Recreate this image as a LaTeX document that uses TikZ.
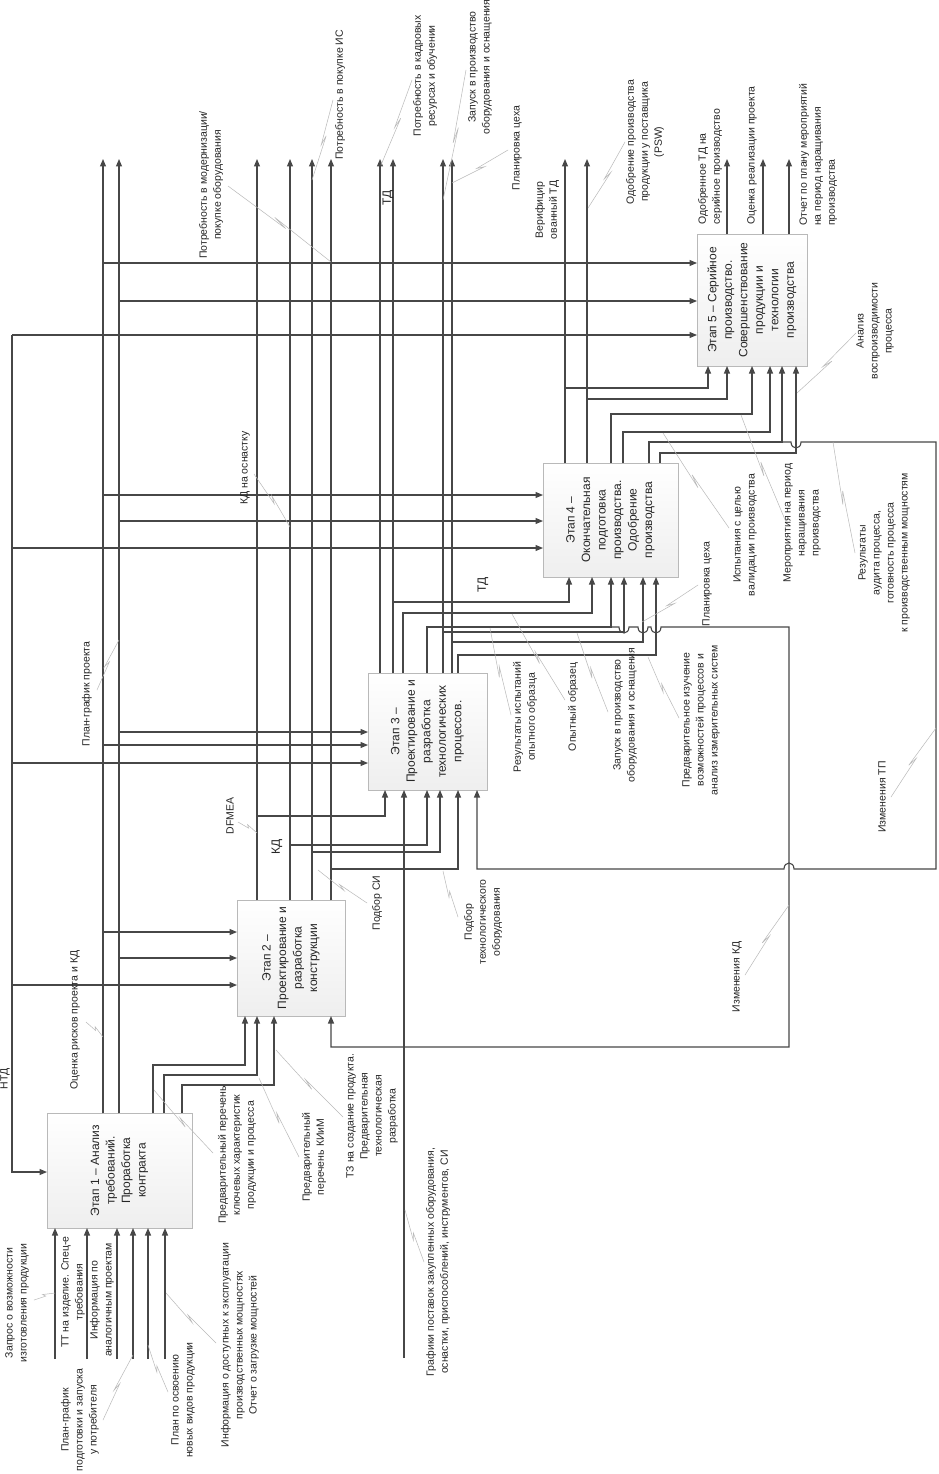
\documentclass[tikz,border=0pt]{standalone}
\usepackage{fontspec}
\setmainfont{Liberation Sans}
\usetikzlibrary{arrows.meta,calc}
\newcommand{\lead}[3]{%
  \coordinate (#1s) at (#2); \coordinate (#1e) at (#3);
  \draw[leader] (#1s) -- ($(#1s)!0.56!(#1e)$) -- ($(#1s)!0.44!(#1e)!2.5pt!90:(#1e)$) -- (#1e);}
\begin{document}
\begin{tikzpicture}[x=1pt,y=-1pt,
  ln/.style={draw=black!72,line width=1.1pt},
  arr/.style={ln,-{Triangle[length=7.5pt,width=6pt]}},
  box/.style={draw=gray!55,line width=0.8pt,top color=white,bottom color=gray!13,outer sep=0pt,inner sep=0pt},
  bt/.style={rotate=90,align=center,font=\fontsize{12}{15.5}\selectfont,text=black!85},
  lab/.style={rotate=90,align=center,font=\fontsize{10.5}{14}\selectfont,text=black!85,inner sep=0pt},
  big/.style={rotate=90,font=\fontsize{12}{14}\selectfont,text=black!85,inner sep=0pt},
  leader/.style={draw=gray!55,line width=0.5pt}]
\path[use as bounding box,fill=white] (0,0) rectangle (938,1474);

% boxes
\node[box,minimum width=145pt,minimum height=115pt] (b1) at (119.5,1170.5) {};
\node[box,minimum width=108pt,minimum height=116pt] (b2) at (291,958) {};
\node[box,minimum width=119pt,minimum height=117pt] (b3) at (427.5,731.5) {};
\node[box,minimum width=135pt,minimum height=114pt] (b4) at (610.5,520) {};
\node[box,minimum width=110pt,minimum height=132pt] (b5) at (752,300) {};
\node[bt] (t1) at (b1) {Этап 1 – Анализ\\требований.\\Проработка\\контракта};
\node[bt] (t2) at (b2) {Этап 2 –\\Проектирование и\\разработка\\конструкции};
\node[bt] (t3) at (b3) {Этап 3 –\\Проектирование и\\разработка\\технологических\\процессов.};
\node[bt] (t4) at (b4) {Этап 4 –\\Окончательная\\подготовка\\производства.\\Одобрение\\производства};
\node[bt] (t5) at (b5) {Этап 5 – Серийное\\производство.\\Совершенствование\\продукции и\\технологии\\производства};

% top tips
\foreach \x in {103,119,257,290,312,331,380,393,443,452,565,587,727,763,789}
  \coordinate (tp\x) at (\x,159);

% НТД control
\coordinate (ntd) at (12,335);
\draw[arr] (ntd) -- (b5.west |- ntd);
\draw[arr] (ntd) |- (b4.west |- 0,548);
\draw[arr] (ntd) |- (b3.west |- 0,763);
\draw[arr] (ntd) |- (b2.west |- 0,985);
\draw[arr] (ntd) |- (b1.west |- 0,1172);

% box 1 outputs
\draw[arr] (b1.north -| tp103) -- (tp103);
\foreach \ya/\bx in {263/b5,495/b4,745/b3,932/b2}
  \draw[arr] (b1.north -| tp103) |- (\bx.west |- 0,\ya);
\draw[arr] (b1.north -| tp119) -- (tp119);
\foreach \ya/\bx in {301/b5,521/b4,732/b3,958/b2}
  \draw[arr] (b1.north -| tp119) |- (\bx.west |- 0,\ya);
\foreach \xa/\ya/\xb in {153/1065/245,164/1075/257,182/1085/274}
  \draw[arr] (b1.north -| \xa,0) |- (\xb,\ya) -- (b2.south -| \xb,0);

% box 1 inputs
\foreach \x in {55,87,117,133,148,165} {
  \coordinate (in\x) at (\x,1359);
  \draw[arr] (in\x) -- (b1.south -| in\x);}

% box 2 outputs
\foreach \x in {257,290,312,331} \draw[arr] (b2.north -| tp\x) -- (tp\x);
\foreach \xa/\ya/\xb in {257/816/385,290/845/427,312/852/440,331/869/458}
  \draw[arr] (b2.north -| \xa,0) |- (\xb,\ya) -- (b3.south -| \xb,0);

% box 3 input from outside
\coordinate (in404) at (404,1358);
\draw[arr] (in404) -- (b3.south -| in404);

% box 3 outputs
\foreach \x in {380,393,443,452} \draw[arr] (b3.north -| tp\x) -- (tp\x);
\foreach \xa/\ya/\xb in {393/602/569,403/613/592,427/627/611,443/632/624,452/642/643,458/655/656}
  \draw[arr] (b3.north -| \xa,0) |- (\xb,\ya) -- (b4.south -| \xb,0);

% feedback: Изменения КД
\draw[arr] (b3.north -| 427,0) |- (619,627)
  .. controls (619,635) and (629,635) .. (629,627) -- (638,627)
  .. controls (638,635) and (648,635) .. (648,627) -- (651,627)
  .. controls (651,635) and (661,635) .. (661,627) -- (789,627) -- (789,1047)
  -| (b2.south -| 331,0);

% box 4 outputs
\foreach \x in {565,587} \draw[arr] (b4.north -| tp\x) -- (tp\x);
\foreach \xa/\ya/\xb in {565/388/708,587/399/727,611/414/752,623/432/770,649/442/782,660/453/796}
  \draw[arr] (b4.north -| \xa,0) |- (\xb,\ya) -- (b5.south -| \xb,0);

% feedback: Изменения ТП
\draw[arr] (b4.north -| 649,0) |- (791,442)
  .. controls (791,450) and (801,450) .. (801,442) -- (936,442) -- (936,869) -- (794,869)
  .. controls (794,861) and (784,861) .. (784,869) -| (b3.south -| 477,0);

% box 5 outputs
\foreach \x in {727,763,789} \draw[arr] (b5.north -| tp\x) -- (tp\x);

% labels
\node[lab] (Lntd) at (5,1079) {НТД};
\node[lab] (L1) at (75,1020) {Оценка рисков проекта и КД};
\lead{q1}{86,1022}{103,1037}
\node[lab] (L2) at (87,694) {План-график проекта};
\lead{q2}{97,690}{119,640}
\node[lab] (L3) at (230,816) {DFMEA};
\lead{q3}{238,822}{257,833}
\node[big] (L4) at (277,847) {КД};
\node[lab] (L5) at (245,468) {КД на оснастку};
\lead{q5}{254,474}{290,527}
\node[lab] (L6) at (211,185) {Потребность в модернизации/\\покупке оборудования};
\lead{q6}{228,186}{331,262}
\node[lab] (L7) at (340,95) {Потребность в покупке ИС};
\lead{q7}{333,100}{312,180}
\node[big] (L8) at (388,198) {ТД};
\node[lab] (L9) at (425,76) {Потребность в кадровых\\ресурсах и обучении};
\lead{q9}{412,80}{381,165}
\node[lab] (L10) at (480,67) {Запуск в производство\\оборудования и оснащения};
\lead{q10}{466,70}{443,200}
\node[lab] (L11) at (517,148) {Планировка цеха};
\lead{q11}{508,150}{452,183}
\node[lab] (L12) at (547,210) {Верифицир\\ованный ТД};
\node[lab] (L13) at (645,142) {Одобрение производства\\продукции у поставщика\\(PSW)};
\lead{q13}{625,142}{588,208}
\node[lab,anchor=west,align=left] (L14) at (710,225) {Одобренное ТД на\\серийное производство};
\node[lab,anchor=west,align=left] (L15) at (752,225) {Оценка реализации проекта};
\node[lab,anchor=west,align=left] (L16) at (818,226) {Отчет по плану мероприятий\\на период наращивания\\производства};
\node[lab] (L17) at (875,331) {Анализ\\воспроизводимости\\процесса};
\lead{q17}{856,333}{797,393}
\node[lab] (L18) at (745,535) {Испытания с целью\\валидации производства};
\lead{q18}{729,528}{663,433}
\node[lab] (L19) at (802,523) {Мероприятия на период\\наращивания\\производства};
\lead{q19}{786,522}{741,415}
\node[lab] (L20) at (884,553) {Результаты\\аудита процесса,\\готовность процесса\\к производственным мощностям};
\lead{q20}{855,553}{833,442}
\node[lab] (L21) at (882,797) {Изменения ТП};
\lead{q21}{891,797}{936,728}
\node[lab] (L22) at (737,977) {Изменения КД};
\lead{q22}{745,975}{789,905}
\node[big] (L23) at (483,585) {ТД};
\node[lab] (L24) at (525,717) {Результаты испытаний\\опытного образца};
\lead{q24}{511,715}{490,628}
\node[lab] (L25) at (573,707) {Опытный образец};
\lead{q25}{565,700}{512,614}
\node[lab] (L26) at (625,715) {Запуск в производство\\оборудования и оснащения};
\lead{q26}{608,712}{577,633}
\node[lab] (L27) at (701,720) {Предварительное изучение\\возможностей процессов и\\анализ измерительных систем};
\lead{q27}{679,718}{648,657}
\node[lab] (L28) at (707,584) {Планировка цеха};
\lead{q28}{698,585}{642,622}
\node[lab] (L29) at (377,903) {Подбор СИ};
\lead{q29}{367,903}{318,870}
\node[lab] (L30) at (483,922) {Подбор\\технологического\\оборудования};
\lead{q30}{458,917}{443,871}
\node[lab] (L31) at (237,1155) {Предварительный перечень\\ключевых характеристик\\продукции и процесса};
\lead{q31}{213,1153}{154,1090}
\node[lab] (L32) at (314,1157) {Предварительный\\перечень КИиМ};
\lead{q32}{299,1157}{259,1078}
\node[lab] (L33) at (372,1116) {ТЗ на создание продукта.\\Предварительная\\технологическая\\разработка};
\lead{q33}{343,1117}{276,1050}
\node[lab] (L34) at (438,1262) {Графики поставок закупленных оборудования,\\оснастки, приспособлений, инструментов, СИ};
\lead{q34}{424,1262}{405,1210}
\node[lab] (L35) at (17,1303) {Запрос о возможности\\изготовления продукции};
\lead{q35}{34,1300}{55,1293}
\node[lab] (L36) at (73,1292) {ТТ на изделие. Спец-е\\требования};
\node[lab] (L37) at (102,1300) {Информация по\\аналогичным проектам};
\node[lab] (L38) at (80,1420) {План-график\\подготовки и запуска\\у потребителя};
\lead{q38}{103,1420}{133,1355}
\node[lab] (L39) at (183,1400) {План по освоению\\новых видов продукции};
\lead{q39}{168,1392}{148,1345}
\node[lab] (L40) at (240,1345) {Информация о доступных к эксплуатации\\производственных мощностях\\Отчет о загрузке мощностей};
\lead{q40}{216,1343}{166,1293}
\end{tikzpicture}
\end{document}
